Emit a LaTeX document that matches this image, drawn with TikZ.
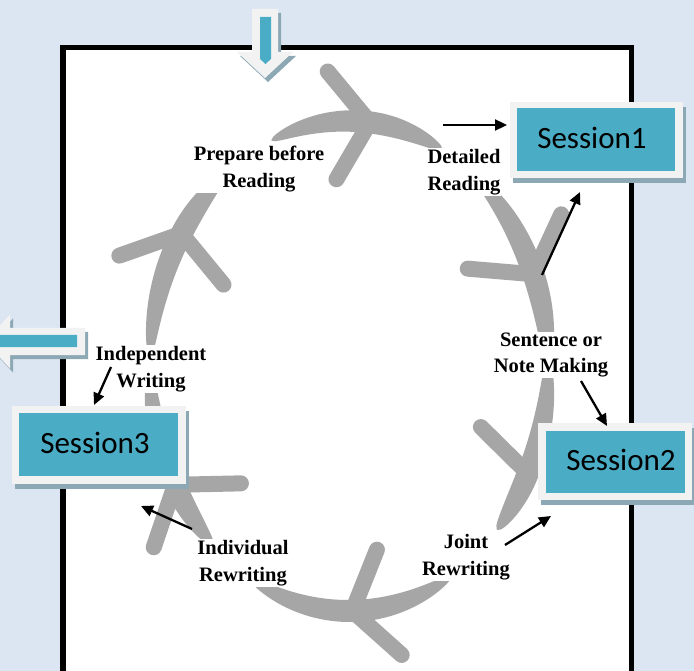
\documentclass[tikz,border=0pt]{standalone}
\usepackage{fontspec}
\setmainfont{Liberation Serif}
\newfontfamily\calib{Carlito}
\usetikzlibrary{arrows.meta,calc}
\definecolor{bgc}{HTML}{DCE6F2}
\definecolor{bandc}{HTML}{A6A6A6}
\definecolor{sesc}{HTML}{4BACC6}
\definecolor{framec}{HTML}{F2F2F2}
\definecolor{shadc}{HTML}{8DA8B5}
\def\ecx{349}\def\ecy{366}\def\erx{199}\def\ery{245}\def\ehw{11}
\newcommand\segprof[3]{sqrt(sin(90*max(0,min(1,(\t-(#1))/((#2)-(#1)))))*sin(90*max(0,min(1,((#3)-\t)/((#3)-(#2))))))}
\newcommand\cycseg[3]{%
  \fill[bandc] plot[domain=#1:#3,samples=60,variable=\t]
    ({\ecx+(\erx+\ehw*\segprof{#1}{#2}{#3})*cos(\t)},{\ecy+(\ery+\ehw*\segprof{#1}{#2}{#3})*sin(\t)})
    -- plot[domain=#3:#1,samples=60,variable=\t]
    ({\ecx+(\erx-\ehw*\segprof{#1}{#2}{#3})*cos(\t)},{\ecy+(\ery-\ehw*\segprof{#1}{#2}{#3})*sin(\t)}) -- cycle;}
\newcommand\cycchev[1]{%
  \pgfmathsetmacro\chx{\ecx+\erx*cos(#1)}%
  \pgfmathsetmacro\chy{\ecy+\ery*sin(#1)}%
  \pgfmathsetmacro\chp{atan2(\ery*cos(#1),-\erx*sin(#1))}%
  \draw[chevarm] (\chx,\chy) ++(\chp+168+55:66) -- (\chx,\chy) -- ++(\chp+168-55:66);}
\begin{document}
\begin{tikzpicture}[x=1pt,y=-1pt,
  chevarm/.style={draw=bandc,line width=16pt,line cap=round,line join=round},
  lbl/.style={font=\bfseries\fontsize{20.5}{26.5}\selectfont,align=center,fill=white,inner sep=1pt},
  sesshadow/.style={fill=shadc,inner sep=0pt},
  sesframe/.style={fill=framec,inner sep=0pt},
  sesinner/.style={fill=sesc,inner sep=0pt},
  sestext/.style={font=\calib\fontsize{31}{31}\selectfont,inner sep=0pt},
  conn/.style={draw=black,line width=2.3pt,-{Triangle[length=12pt,width=11pt]}}
]
\useasboundingbox (0,0) rectangle (694,671);
\clip (0,0) rectangle (694,671);
\fill[bgc] (0,0) rectangle (694,671);
\draw[line width=5.5pt,fill=white] (63,47.5) rectangle (631.5,720);

% cycle bands
\cycseg{247}{276}{298}
\cycseg{308}{338}{360}
\cycseg{-2}{26}{42}
\cycseg{59}{89}{120}
\cycseg{133}{151}{180}
\cycseg{182}{212.7}{232}
\cycchev{276}
\cycchev{338}
\cycchev{26}
\cycchev{89}
\cycchev{151}
\cycchev{212.7}

% labels
\node[lbl] (l1) at (259,169) {Prepare before\\Reading};
\node[lbl] (l2) at (464,172) {Detailed\\Reading};
\node[lbl] (l3) at (551,355) {Sentence or\\Note Making};
\node[lbl] (l4) at (466,557) {Joint\\Rewriting};
\node[lbl] (l5) at (243,563) {Individual\\Rewriting};
\node[lbl] (l6) at (151,369) {Independent\\Writing};

% session boxes
\node[sesshadow,minimum width=173,minimum height=76] (s1h) at (599.5,145) {};
\node[sesframe,minimum width=173,minimum height=76] (s1f) at (596.5,140) {};
\node[sesinner,minimum width=158,minimum height=63] (s1) at (596,139.5) {};
\node[sestext] (t1) at (592,138) {Session1};

\node[sesshadow,minimum width=154,minimum height=77] (s2h) at (618,466.5) {};
\node[sesframe,minimum width=154,minimum height=77] (s2f) at (615,461.5) {};
\node[sesinner,minimum width=139,minimum height=62] (s2) at (615.5,462) {};
\node[sestext] (t2) at (621,460) {Session2};

\node[sesshadow,minimum width=174,minimum height=78] (s3h) at (102,450) {};
\node[sesframe,minimum width=174,minimum height=78] (s3f) at (99,445) {};
\node[sesinner,minimum width=159,minimum height=63] (s3) at (98.5,444.5) {};
\node[sestext] (t3) at (95,443) {Session3};

% block arrows
\fill[shadc] (255,13) -- (281,13) -- (281,56) -- (296,56) -- (268,82) -- (240,56) -- (255,56) -- cycle;
\fill[framec] (252,9) -- (278,9) -- (278,52) -- (293,52) -- (265,78) -- (237,52) -- (252,52) -- cycle;
\fill[sesc] (260,17) -- (271,17) -- (271,59) -- (265.5,64) -- (260,59) -- cycle;

\fill[shadc] (88,332) -- (13,332) -- (13,318.5) -- (-12,345.5) -- (13,372.5) -- (13,359) -- (88,359) -- cycle;
\fill[framec] (85,328) -- (10,328) -- (10,314.5) -- (-15,341.5) -- (10,368.5) -- (10,355) -- (85,355) -- cycle;
\fill[sesc] (77,335) -- (-2,335) -- (-8,341) -- (-2,347) -- (77,347) -- cycle;

% connectors
\coordinate (a1s) at (443,125); \coordinate (a1e) at (507,125);
\coordinate (a2s) at (542,275); \coordinate (a2e) at (580,192);
\coordinate (a3s) at (581,381); \coordinate (a3e) at (607,426);
\coordinate (a4s) at (505,545); \coordinate (a4e) at (551,516);
\coordinate (a5s) at (111,367); \coordinate (a5e) at (94,405);
\coordinate (a6s) at (192,529); \coordinate (a6e) at (141,506);
\draw[conn] (a1s) -- (a1e);
\draw[conn] (a2s) -- (a2e);
\draw[conn] (a3s) -- (a3e);
\draw[conn] (a4s) -- (a4e);
\draw[conn] (a5s) -- (a5e);
\draw[conn] (a6s) -- (a6e);
\end{tikzpicture}
\end{document}
